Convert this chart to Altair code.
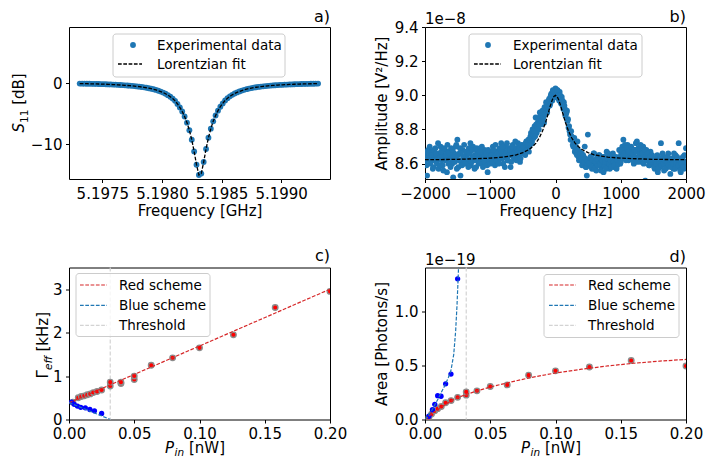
import altair as alt
import pandas as pd

FONT = "DejaVu Sans"
W, H = 261, 152
C_BLUE = "#1f77b4"
C_RED_FIT = "#d62728"
C_THR = "#d3d3d3"
DASH = [3.7, 1.6]

# ---------------- panel a : S11 resonance ----------------
F_START = 5.19731   # GHz, first sweep point
F_STEP = 0.00002    # GHz, sweep step
s11_db = [
    -0.07, -0.08, -0.08, -0.09, -0.10, -0.11, -0.12, -0.13, -0.14, -0.16,
    -0.17, -0.18, -0.20, -0.21, -0.23, -0.25, -0.27, -0.30, -0.32, -0.35,
    -0.38, -0.41, -0.44, -0.48, -0.53, -0.57, -0.63, -0.69, -0.75, -0.83,
    -0.91, -1.00, -1.11, -1.24, -1.38, -1.54, -1.73, -1.96, -2.22, -2.53,
    -2.90, -3.41, -3.97, -4.64, -5.46, -6.47, -7.72, -9.27, -11.19, -13.36,
    -15.04,
    -14.81, -12.92, -10.78, -8.94, -7.45, -6.25, -5.30, -4.50, -3.86, -3.32,
    -2.82, -2.46, -2.16, -1.91, -1.69, -1.51, -1.35, -1.21, -1.09, -0.98,
    -0.89, -0.81, -0.74, -0.67, -0.62, -0.56, -0.52, -0.48, -0.44, -0.40,
    -0.37, -0.34, -0.31, -0.29, -0.27, -0.25, -0.23, -0.21, -0.20, -0.18,
    -0.17, -0.15, -0.14, -0.13, -0.12, -0.11, -0.10, -0.09, -0.08, -0.07,
]
freq_ghz = [round(F_START + F_STEP * i, 6) for i in range(len(s11_db))]

# ---------------- panel b : mechanical spectrum (units of 1e-8 V^2/Hz) ----------------
# sweep 1: from -2000 Hz in 16 Hz steps
B1_START = -2000
B_STEP = 16
amp_b1 = [
    8.66, 8.62, 8.53, 8.68, 8.64, 8.60, 8.67, 8.63, 8.58, 8.65,
    8.69, 8.61, 8.64, 8.57, 8.66, 8.70, 8.62, 8.59, 8.65, 8.68,
    8.63, 8.55, 8.67, 8.61, 8.64, 8.69, 8.60, 8.52, 8.66, 8.63,
    8.71, 8.74, 8.58, 8.66, 8.53, 8.60, 8.68, 8.62, 8.63, 8.64,
    8.65, 8.61, 8.69, 8.66, 8.59, 8.63, 8.70, 8.62, 8.65, 8.58,
    8.67, 8.64, 8.61, 8.69, 8.63, 8.66, 8.60, 8.68, 8.62, 8.65,
    8.55, 8.64, 8.67,
    8.62, 8.66, 8.70, 8.63, 8.59, 8.67, 8.64, 8.61, 8.68, 8.65,
    8.72, 8.63, 8.60, 8.67, 8.70, 8.64, 8.62, 8.69, 8.66, 8.58,
    8.65, 8.71, 8.67, 8.63, 8.69, 8.66, 8.72, 8.64, 8.61, 8.68,
    8.70,
    8.68, 8.71, 8.65, 8.73, 8.69, 8.74, 8.70, 8.76, 8.72, 8.80,
    8.75, 8.82, 8.87, 8.78, 8.84, 8.80, 8.90, 8.86, 8.83,
    8.88, 8.84, 8.92, 8.96, 8.90, 8.94, 8.98, 8.95, 9.01, 8.97,
    9.02, 8.99, 9.04, 9.01, 9.03, 8.98, 9.02, 8.96, 8.99, 8.94,
    8.96, 8.92, 8.89, 8.91, 8.86,
    8.82, 8.77, 8.79, 8.74, 8.70, 8.75, 8.68, 8.66, 8.73, 8.64,
    8.67, 8.62, 8.66, 8.60, 8.64, 8.70, 8.58, 8.53, 8.77,
    8.62, 8.59, 8.64, 8.57, 8.61, 8.66, 8.60, 8.56, 8.63, 8.59,
    8.65, 8.61, 8.58, 8.62, 8.55, 8.64, 8.60, 8.67, 8.59, 8.62,
    8.57, 8.63, 8.60, 8.66, 8.58, 8.61, 8.64, 8.59, 8.62, 8.68,
    8.60,
    8.66, 8.70, 8.74, 8.63, 8.68, 8.65, 8.71, 8.62, 8.67, 8.69,
    8.64, 8.66, 8.60, 8.68, 8.72, 8.73, 8.63, 8.69, 8.67, 8.61,
    8.66, 8.70, 8.64, 8.50, 8.68, 8.62, 8.65, 8.59, 8.67, 8.63,
    8.61,
    8.60, 8.57, 8.63, 8.59, 8.55, 8.62, 8.58, 8.72, 8.61, 8.64,
    8.56, 8.60, 8.62, 8.58, 8.66, 8.59, 8.54, 8.61, 8.63, 8.57,
    8.60, 8.65, 8.58, 8.62, 8.72, 8.59, 8.55, 8.61, 8.64, 8.57,
    8.60, 8.69,
]
# sweep 2: from -1992 Hz in 16 Hz steps (interleaved points)
B2_START = -1992
amp_b2 = [
    8.63, 8.59, 8.67, 8.64, 8.70, 8.61, 8.65, 8.57, 8.68, 8.62,
    8.66, 8.60, 8.72, 8.63, 8.59, 8.67, 8.64, 8.56, 8.69, 8.62,
    8.65, 8.71, 8.60, 8.66, 8.58, 8.63, 8.68, 8.64, 8.61, 8.70,
    8.57, 8.65, 8.62, 8.69, 8.66, 8.59, 8.64, 8.71, 8.60, 8.67,
    8.63, 8.58, 8.66, 8.72, 8.61, 8.68, 8.64, 8.57, 8.62, 8.69,
    8.65, 8.60, 8.67, 8.63, 8.70, 8.58, 8.64, 8.61, 8.66, 8.59,
    8.68, 8.62, 8.60,
    8.65, 8.61, 8.68, 8.64, 8.71, 8.62, 8.66, 8.60, 8.69, 8.63,
    8.67, 8.70, 8.64, 8.58, 8.66, 8.72, 8.62, 8.65, 8.68, 8.61,
    8.70, 8.64, 8.66, 8.73, 8.62, 8.67, 8.65, 8.69, 8.63, 8.71,
    8.66,
    8.70, 8.66, 8.72, 8.68, 8.71, 8.67, 8.74, 8.78, 8.73, 8.77,
    8.79, 8.76, 8.83, 8.81, 8.86, 8.83, 8.88, 8.85, 8.91,
    8.87, 8.93, 8.89, 8.95, 8.93, 8.97, 8.94, 9.00, 8.98, 9.03,
    9.00, 9.02, 8.99, 9.03, 9.00, 8.97, 9.00, 8.95, 8.97, 8.92,
    8.94, 8.88, 8.90, 8.85, 8.81,
    8.79, 8.74, 8.76, 8.71, 8.73, 8.67, 8.70, 8.65, 8.68, 8.62,
    8.66, 8.63, 8.59, 8.65, 8.61, 8.63, 8.58, 8.62, 8.60,
    8.60, 8.64, 8.58, 8.62, 8.66, 8.57, 8.61, 8.63, 8.59, 8.65,
    8.60, 8.56, 8.62, 8.64, 8.59, 8.61, 8.57, 8.63, 8.66, 8.60,
    8.62, 8.58, 8.65, 8.61, 8.59, 8.63, 8.57, 8.62, 8.60, 8.64,
    8.61,
    8.68, 8.64, 8.66, 8.71, 8.62, 8.69, 8.65, 8.67, 8.63, 8.70,
    8.66, 8.62, 8.68, 8.64, 8.67, 8.61, 8.69, 8.65, 8.71, 8.63,
    8.66, 8.60, 8.68, 8.64, 8.62, 8.66, 8.59, 8.64, 8.61, 8.65,
    8.62,
    8.58, 8.62, 8.60, 8.65, 8.57, 8.61, 8.63, 8.59, 8.66, 8.60,
    8.62, 8.57, 8.64, 8.61, 8.59, 8.63, 8.58, 8.62, 8.60, 8.66,
    8.57, 8.61, 8.64, 8.59, 8.62, 8.56, 8.60, 8.63, 8.58, 8.65,
    8.61,
]
freq_b = ([B1_START + B_STEP * i for i in range(len(amp_b1))]
          + [B2_START + B_STEP * i for i in range(len(amp_b2))])
amp_b = amp_b1 + amp_b2
fit_b_hz = [-2000, -1500, -1000, -800, -600, -500, -400, -350, -300, -250, -200, -150,
            -125, -100, -75, -50, -25, 0, 25, 50, 75, 100, 125, 150, 200, 250, 300,
            350, 400, 500, 600, 800, 1000, 1500, 2000]
fit_b_amp = [8.623, 8.625, 8.632, 8.638, 8.651, 8.664, 8.684, 8.700, 8.720, 8.750, 8.790,
             8.844, 8.876, 8.910, 8.944, 8.973, 8.993, 9.000, 8.993, 8.973, 8.944, 8.910,
             8.876, 8.844, 8.790, 8.750, 8.720, 8.700, 8.684, 8.664, 8.651, 8.638, 8.632,
             8.625, 8.623]

# ---------------- panel c : effective linewidth ----------------
red_c_p = [0.003, 0.0071, 0.0094, 0.0117, 0.014, 0.0163, 0.0186, 0.0215, 0.025, 0.0316,
           0.0316, 0.0398, 0.0398, 0.05, 0.05, 0.063, 0.0794, 0.1, 0.126, 0.158, 0.2]
red_c_g = [0.40, 0.50, 0.53, 0.545, 0.57, 0.59, 0.62, 0.645, 0.68, 0.77,
           0.86, 0.83, 0.86, 0.92, 1.0, 1.25, 1.42, 1.65, 1.95, 2.58, 2.95]
blue_c_p = [0.002, 0.004, 0.0065, 0.009, 0.0125, 0.016, 0.0195, 0.025]
blue_c_g = [0.40, 0.35, 0.31, 0.28, 0.27, 0.23, 0.20, 0.14]
red_fit_c_p = [0.0, 0.2]
red_fit_c_g = [0.385, 3.0]
blue_fit_c_p = [0.0, 0.0316]
blue_fit_c_g = [0.39, 0.0]
threshold_p = [0.0316]

# ---------------- panel d : area (units of 1e-19 photons/s) ----------------
red_d_p = [0.003, 0.005, 0.0075, 0.0097, 0.0125, 0.0158, 0.02, 0.025, 0.0316, 0.0316,
           0.0398, 0.05, 0.063, 0.0794, 0.1, 0.126, 0.158, 0.2]
red_d_a = [0.02, 0.05, 0.08, 0.10, 0.12, 0.155, 0.175, 0.205, 0.225, 0.255,
           0.265, 0.305, 0.32, 0.41, 0.45, 0.485, 0.545, 0.495]
blue_d_p = [0.003, 0.0057, 0.0075, 0.0097, 0.0123, 0.0158, 0.0199, 0.025]
blue_d_a = [0.03, 0.09, 0.14, 0.22, 0.215, 0.33, 0.42, 1.30]
red_fit_d_p = [0, 0.005, 0.01, 0.015, 0.02, 0.025, 0.03, 0.04, 0.05, 0.06, 0.08, 0.10,
               0.12, 0.14, 0.16, 0.18, 0.20]
red_fit_d_a = [0, 0.05, 0.095, 0.135, 0.17, 0.20, 0.225, 0.265, 0.30, 0.33, 0.385, 0.43,
               0.465, 0.495, 0.52, 0.54, 0.555]
blue_fit_d_p = [0, 0.005, 0.01, 0.015, 0.018, 0.02, 0.022, 0.0235, 0.0245, 0.0252, 0.026]
blue_fit_d_a = [0, 0.08, 0.19, 0.31, 0.39, 0.46, 0.60, 0.82, 1.05, 1.25, 1.50]

# ---------------- helpers ----------------
ONE = alt.Data(values=[{"k": 0}])


def text_mark(text, x, y, size=15, align="left", angle=None, style="normal", baseline="alphabetic"):
    kw = dict(text=text, align=align, baseline=baseline, fontSize=size, font=FONT,
              color="black", fontStyle=style)
    if angle is not None:
        kw["angle"] = angle
    return alt.Chart(ONE).mark_text(**kw).encode(x=alt.value(x), y=alt.value(y))


def legend(box, rows, text_x):
    x1, x2, y1, y2 = box
    layers = [alt.Chart(ONE).mark_rect(fill="white", fillOpacity=0.8, stroke="#cccccc",
                                       strokeWidth=1, cornerRadius=3)
              .encode(x=alt.value(x1), x2=alt.value(x2), y=alt.value(y1), y2=alt.value(y2))]
    for r in rows:
        if r["kind"] == "dot":
            layers.append(alt.Chart(ONE).mark_circle(color=r["color"], size=r["size"], opacity=1)
                          .encode(x=alt.value(r["x"]), y=alt.value(r["y"])))
        else:
            layers.append(alt.Chart(ONE).mark_rule(color=r["color"], strokeDash=r["dash"],
                                                   strokeWidth=r["width"])
                          .encode(x=alt.value(r["x1"]), x2=alt.value(r["x2"]), y=alt.value(r["y"])))
        layers.append(text_mark(r["label"], text_x, r["y"] + 0.5, size=13.5, baseline="middle"))
    return layers


# ---------------- panel a ----------------
df_a = pd.DataFrame({"f": freq_ghz, "s": s11_db})
xa = alt.X("f:Q", scale=alt.Scale(domain=[5.19722, 5.19941], nice=False, zero=False),
           axis=alt.Axis(values=[5.1975, 5.198, 5.1985, 5.199], format=".4f",
                         title="Frequency [GHz]", titlePadding=2))
ya = alt.Y("s:Q", scale=alt.Scale(domain=[-15.7, 9.2], nice=False, zero=False),
           axis=alt.Axis(values=[-10, 0], format="d", title=None))
base_a = alt.Chart(df_a).encode(xa, ya)
panel_a = alt.layer(
    base_a.mark_circle(size=34, color=C_BLUE, opacity=1, clip=True),
    base_a.mark_line(color="black", strokeDash=DASH, strokeWidth=1.3, clip=True),
    *legend((44, 216, 7, 50),
            [dict(kind="dot", color=C_BLUE, size=34, x=64, y=18, label="Experimental data"),
             dict(kind="line", color="black", dash=DASH, width=1.3, x1=49, x2=73, y=37,
                  label="Lorentzian fit")], 88),
    text_mark("a)", W, -5, size=16, align="right"),
    text_mark("S", -45, 105.5, angle=270, style="italic"),
    text_mark("11", -41.5, 96, size=10.5, angle=270),
    text_mark("[dB]", -45, 77.8, angle=270),
).properties(width=W, height=H)

# ---------------- panel b ----------------
df_b = pd.DataFrame({"f": freq_b, "a": amp_b})
df_bfit = pd.DataFrame({"f": fit_b_hz, "a": fit_b_amp})
xb = alt.X("f:Q", scale=alt.Scale(domain=[-2000, 2000], nice=False, zero=False),
           axis=alt.Axis(values=[-2000, -1000, 0, 1000, 2000], format="d",
                         title="Frequency [Hz]", titlePadding=2))
yb = alt.Y("a:Q", scale=alt.Scale(domain=[8.51, 9.4], nice=False, zero=False),
           axis=alt.Axis(values=[8.6, 8.8, 9.0, 9.2, 9.4], format=".1f",
                         title="Amplitude [V²/Hz]"))
panel_b = alt.layer(
    alt.Chart(df_b).mark_circle(size=34, color=C_BLUE, opacity=1, clip=True).encode(xb, yb),
    alt.Chart(df_bfit).mark_line(color="black", strokeDash=DASH, strokeWidth=1.3, clip=True)
    .encode(xb, yb),
    *legend((44, 217, 7, 50),
            [dict(kind="dot", color=C_BLUE, size=34, x=63, y=18, label="Experimental data"),
             dict(kind="line", color="black", dash=DASH, width=1.3, x1=49, x2=76, y=37,
                  label="Lorentzian fit")], 88),
    text_mark("b)", W, -5, size=16, align="right"),
    text_mark("1e−8", 0, -3, size=15),
).properties(width=W, height=H)

# ---------------- panel c ----------------
xc = alt.X("p:Q", scale=alt.Scale(domain=[0, 0.2], nice=False),
           axis=alt.Axis(values=[0, 0.05, 0.1, 0.15, 0.2], format=".2f", title=None))
yc = alt.Y("g:Q", scale=alt.Scale(domain=[0, 3.5], nice=False),
           axis=alt.Axis(values=[0, 1, 2, 3], format="d", title=None))
panel_c = alt.layer(
    alt.Chart(pd.DataFrame({"p": threshold_p})).mark_rule(color=C_THR, strokeDash=[4, 2],
                                                           strokeWidth=1.2).encode(xc),
    alt.Chart(pd.DataFrame({"p": red_c_p, "g": red_c_g})).mark_circle(
        color="red", stroke="#8c8c8c", strokeWidth=1.4, size=30, opacity=1, clip=True).encode(xc, yc),
    alt.Chart(pd.DataFrame({"p": blue_c_p, "g": blue_c_g})).mark_circle(
        color="blue", size=28, opacity=1, clip=True).encode(xc, yc),
    alt.Chart(pd.DataFrame({"p": red_fit_c_p, "g": red_fit_c_g})).mark_line(
        color=C_RED_FIT, strokeDash=DASH, strokeWidth=1.2, clip=True).encode(xc, yc),
    alt.Chart(pd.DataFrame({"p": blue_fit_c_p, "g": blue_fit_c_g})).mark_line(
        color=C_BLUE, strokeDash=DASH, strokeWidth=1.2, clip=True).encode(xc, yc),
    *legend((7, 141, 6, 69),
            [dict(kind="line", color=C_RED_FIT, dash=DASH, width=1.2, x1=11, x2=38, y=17.5,
                  label="Red scheme"),
             dict(kind="line", color=C_BLUE, dash=DASH, width=1.2, x1=11, x2=38, y=37.8,
                  label="Blue scheme"),
             dict(kind="line", color=C_THR, dash=DASH, width=1.2, x1=11, x2=38, y=57.8,
                  label="Threshold")], 50),
    text_mark("c)", W, -7, size=16, align="right"),
    text_mark("Γ", -21, 111, angle=270),
    text_mark("eff", -17.5, 102.5, size=10.5, angle=270, style="italic"),
    text_mark("[kHz]", -21, 84, angle=270),
    text_mark("P", 96, H + 33, style="italic"),
    text_mark("in", 105.5, H + 36.5, size=10.5, style="italic"),
    text_mark("[nW]", 120, H + 33),
).properties(width=W, height=H)

# ---------------- panel d ----------------
xd = alt.X("p:Q", scale=alt.Scale(domain=[0, 0.2], nice=False),
           axis=alt.Axis(values=[0, 0.05, 0.1, 0.15, 0.2], format=".2f", title=None))
yd = alt.Y("a:Q", scale=alt.Scale(domain=[0, 1.405], nice=False),
           axis=alt.Axis(values=[0, 0.5, 1.0], format=".1f", title="Area [Photons/s]"))
panel_d = alt.layer(
    alt.Chart(pd.DataFrame({"p": threshold_p})).mark_rule(color=C_THR, strokeDash=[4, 2],
                                                           strokeWidth=1.2).encode(xd),
    alt.Chart(pd.DataFrame({"p": red_d_p, "a": red_d_a})).mark_circle(
        color="red", stroke="#8c8c8c", strokeWidth=1.4, size=30, opacity=1, clip=True).encode(xd, yd),
    alt.Chart(pd.DataFrame({"p": blue_d_p, "a": blue_d_a})).mark_circle(
        color="blue", size=28, opacity=1, clip=True).encode(xd, yd),
    alt.Chart(pd.DataFrame({"p": red_fit_d_p, "a": red_fit_d_a})).mark_line(
        color=C_RED_FIT, strokeDash=DASH, strokeWidth=1.2, clip=True).encode(xd, yd),
    alt.Chart(pd.DataFrame({"p": blue_fit_d_p, "a": blue_fit_d_a})).mark_line(
        color=C_BLUE, strokeDash=DASH, strokeWidth=1.2, clip=True).encode(xd, yd),
    *legend((119, 254, 7, 70),
            [dict(kind="line", color=C_RED_FIT, dash=DASH, width=1.2, x1=124, x2=151, y=17.5,
                  label="Red scheme"),
             dict(kind="line", color=C_BLUE, dash=DASH, width=1.2, x1=124, x2=151, y=37.8,
                  label="Blue scheme"),
             dict(kind="line", color=C_THR, dash=DASH, width=1.2, x1=124, x2=151, y=57.8,
                  label="Threshold")], 163),
    text_mark("d)", W, -6, size=16, align="right"),
    text_mark("1e−19", 0, -2.5, size=15),
    text_mark("P", 96, H + 33, style="italic"),
    text_mark("in", 105.5, H + 36.5, size=10.5, style="italic"),
    text_mark("[nW]", 120, H + 33),
).properties(width=W, height=H)

chart = alt.concat(
    panel_a, panel_b, panel_c, panel_d,
    columns=2, spacing={"row": 88.5, "column": 95}, bounds="flush",
).properties(
    padding={"left": 11, "top": 8, "right": 4, "bottom": 2},
    background="white",
).configure_view(stroke="black", strokeWidth=1).configure_axis(
    labelFont=FONT, labelFontSize=15, titleFont=FONT, titleFontSize=15,
    titleFontWeight="normal", labelColor="black", titleColor="black",
    tickColor="black", tickSize=3.5, tickWidth=1, grid=False, domain=False,
    labelPadding=3.5, titlePadding=5, labelFlush=False, labelOverlap=False,
)

chart.save("out.html", embed_options={"renderer": "svg", "actions": False})
